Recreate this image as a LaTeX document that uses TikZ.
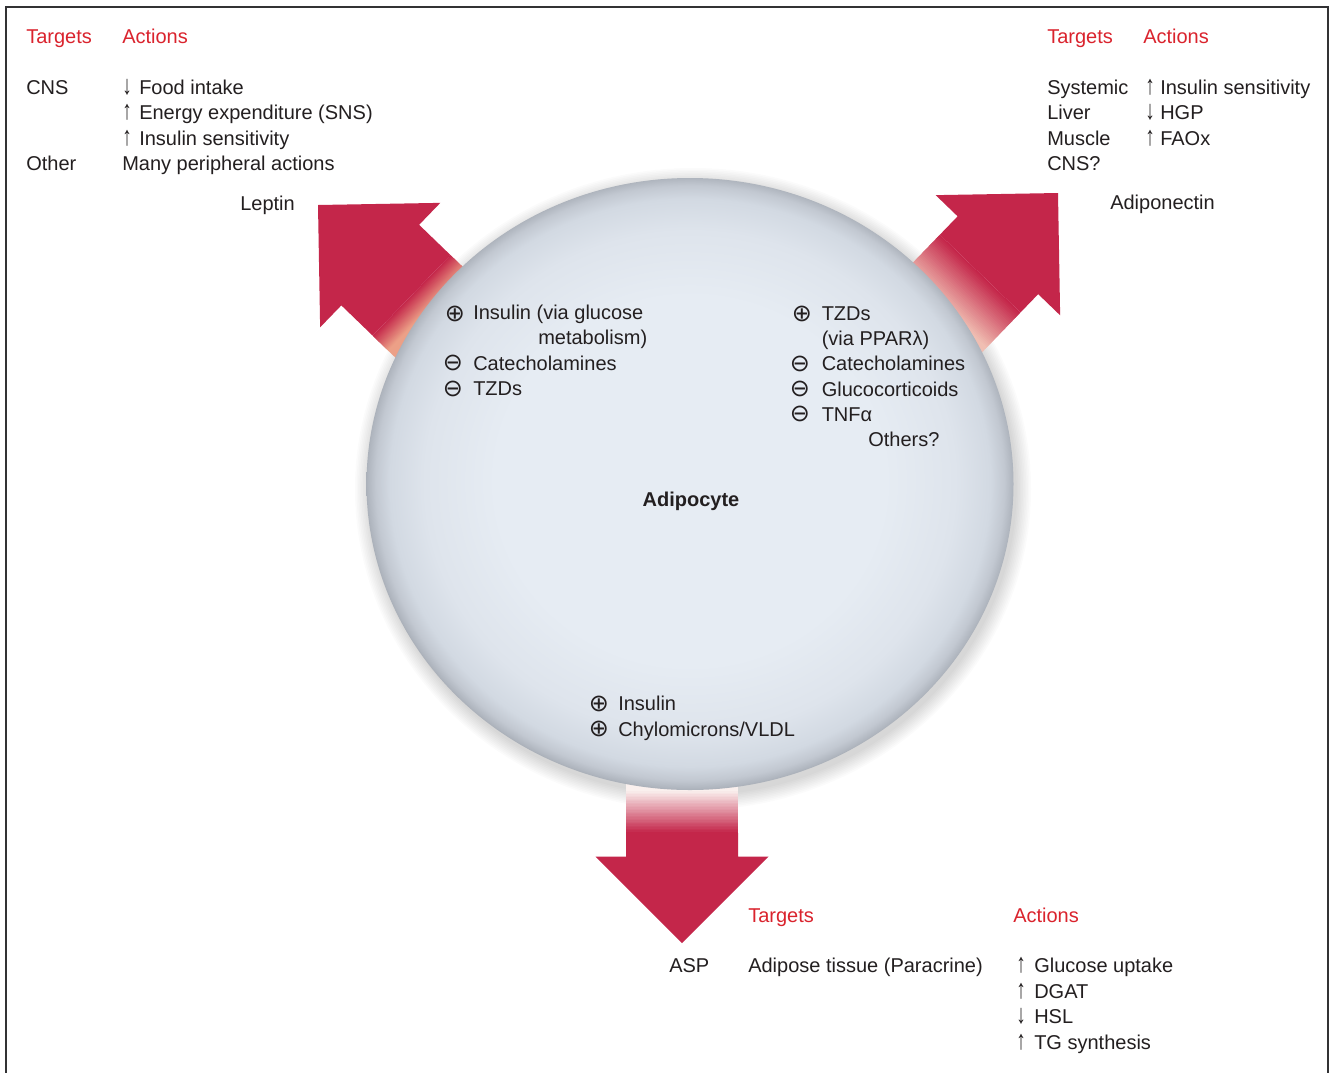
\documentclass[tikz,border=0pt]{standalone}
\usepackage{fontspec}
\setmainfont{Liberation Sans}
\newfontfamily\symfont{DejaVu Sans}
\definecolor{arrowred}{RGB}{196,38,74}
\definecolor{hdrred}{RGB}{218,35,45}
\definecolor{txt}{RGB}{35,31,32}
\definecolor{frame}{RGB}{50,50,52}
\definecolor{fadeA}{RGB}{236,160,135}
\definecolor{fadeB}{RGB}{240,190,178}
\definecolor{fadeC}{RGB}{250,240,238}
\definecolor{cellA}{RGB}{230,236,243}
\definecolor{cellB}{RGB}{222,228,236}
\definecolor{cellC}{RGB}{210,217,226}
\definecolor{cellD}{RGB}{194,200,209}
\definecolor{cellE}{RGB}{176,182,191}
\definecolor{cellF}{RGB}{160,166,175}
\pgfdeclareradialshading{cellshade}{\pgfpoint{0bp}{0.5bp}}{color(0bp)=(cellA); color(15bp)=(cellA); color(20.5bp)=(cellB); color(23.2bp)=(cellC); color(24.3bp)=(cellD); color(24.9bp)=(cellE); color(25.3bp)=(cellF); color(30bp)=(cellF)}
\newcommand\fadeband[3]{%
  \foreach \k in {0,...,29}{%
    \pgfmathsetmacro\xa{#1+(#2-(#1))*\k/30}%
    \pgfmathsetmacro\xb{#1+(#2-(#1))*(\k+1)/30-0.8}%
    \pgfmathtruncatemacro\pc{100-100*\k/29}%
    \fill[arrowred!\pc!#3] (\xa,-56) rectangle (\xb,56);}%
  \fill[#3] (#2,-56) rectangle (#2-40,56);}
\newcommand\up{\scalebox{0.95}[1.35]{↑}}
\newcommand\dn{\scalebox{0.95}[1.35]{↓}}
\begin{document}
\begin{tikzpicture}[x=0.75pt,y=-0.75pt,
  lbl/.style={anchor=base west, inner sep=0pt, text=txt, font=\fontsize{15}{18}\selectfont},
  hdr/.style={lbl, text=hdrred},
  sym/.style={inner sep=0pt, text=txt, font=\symfont\fontsize{18}{18}\selectfont},
  bigarrow/.style={fill=arrowred}]
\useasboundingbox (0,0) rectangle (1329,1072);
\fill[white] (0,0) rectangle (1329,1072);
\draw[frame, line width=1.5pt] (6,1080) -- (6,7) -- (1328,7) -- (1328,1080);

% soft shadow of the cell
\foreach \i in {1,...,10}
  \fill[black, opacity=0.016] (693,489) ellipse ({322+1.6*\i} and {305+1.6*\i});

% Leptin arrow
\begin{scope}[shift={(318,205)}, rotate=136, x=0.75pt, y=0.75pt]
  \fill[bigarrow] (0,0) -- (-86.5,86.5) -- (-86.5,56) -- (-130,56) -- (-130,-56) -- (-86.5,-56) -- (-86.5,-86.5) -- cycle;
  \fadeband{-130}{-152}{fadeA}
\end{scope}
% Adiponectin arrow
\begin{scope}[shift={(1058,193)}, rotate=46, x=0.75pt, y=0.75pt]
  \fill[bigarrow] (0,0) -- (-86.5,86.5) -- (-86.5,56) -- (-112,56) -- (-112,-56) -- (-86.5,-56) -- (-86.5,-86.5) -- cycle;
  \fadeband{-112}{-162}{fadeB}
\end{scope}
% ASP arrow
\begin{scope}[shift={(682,943)}, rotate=-90, x=0.75pt, y=0.75pt]
  \fill[bigarrow] (0,0) -- (-86.5,86.5) -- (-86.5,56) -- (-110,56) -- (-110,-56) -- (-86.5,-56) -- (-86.5,-86.5) -- cycle;
  \fadeband{-110}{-153}{fadeC}
\end{scope}

% the cell
\shade[shading=cellshade] (690,484) ellipse (323.5 and 306);
\node[lbl, anchor=base, font=\bfseries\fontsize{15}{18}\selectfont] (adipocyte) at (691,506) {Adipocyte};

% top-left block
\node[hdr] (tlT) at (26,43) {Targets};
\node[hdr] (tlA) at (122,43) {Actions};
\node[lbl] (tlcns) at (26,94) {CNS};
\node[lbl] (tlother) at (26,170.5) {Other};
\node[lbl] (tla1) at (122,94) {\dn};
\node[lbl] (tla2) at (122,119.5) {\up};
\node[lbl] (tla3) at (122,145) {\up};
\node[lbl] (tlt1) at (139,94) {Food intake};
\node[lbl] (tlt2) at (139,119.5) {Energy expenditure (SNS)};
\node[lbl] (tlt3) at (139,145) {Insulin sensitivity};
\node[lbl] (tlt4) at (122,170.5) {Many peripheral actions};
\node[lbl] (leptin) at (240,210.5) {Leptin};

% top-right block
\node[hdr] (trT) at (1047,43) {Targets};
\node[hdr] (trA) at (1143,43) {Actions};
\node[lbl] (trs1) at (1047,94) {Systemic};
\node[lbl] (trs2) at (1047,119.5) {Liver};
\node[lbl] (trs3) at (1047,145) {Muscle};
\node[lbl] (trs4) at (1047,170.5) {CNS?};
\node[lbl] (tra1) at (1145,94) {\up};
\node[lbl] (tra2) at (1145,119.5) {\dn};
\node[lbl] (tra3) at (1145,145) {\up};
\node[lbl] (trt1) at (1160,94) {Insulin sensitivity};
\node[lbl] (trt2) at (1160,119.5) {HGP};
\node[lbl] (trt3) at (1160,145) {FAOx};
\node[lbl] (adipo) at (1110,209.5) {Adiponectin};

% regulators of leptin
\node[sym] (lp1) at (455,314) {⊕};
\node[sym] (lm1) at (453,363) {⊖};
\node[sym] (lm2) at (453,388.5) {⊖};
\node[lbl] (lr1) at (473,319) {Insulin (via glucose};
\node[lbl] (lr1b) at (538,344.5) {metabolism)};
\node[lbl] (lr2) at (473,370) {Catecholamines};
\node[lbl] (lr3) at (473,395) {TZDs};

% regulators of adiponectin
\node[sym] (rp1) at (802,314) {⊕};
\node[sym] (rm1) at (800,363.5) {⊖};
\node[sym] (rm2) at (800,388.5) {⊖};
\node[sym] (rm3) at (800,413.5) {⊖};
\node[lbl] (rr1) at (821.5,320) {TZDs};
\node[lbl] (rr1b) at (821.5,345) {(via PPARλ)};
\node[lbl] (rr2) at (821.5,370.5) {Catecholamines};
\node[lbl] (rr3) at (821.5,396) {Glucocorticoids};
\node[lbl] (rr4) at (821.5,421) {TNFα};
\node[lbl] (rr5) at (868,446) {Others?};

% regulators of ASP
\node[sym] (bp1) at (599,703.5) {⊕};
\node[sym] (bp2) at (599,729) {⊕};
\node[lbl] (br1) at (618,710.5) {Insulin};
\node[lbl] (br2) at (618,736) {Chylomicrons/VLDL};

% bottom block
\node[hdr] (bT) at (748,922.5) {Targets};
\node[hdr] (bA) at (1013,922.5) {Actions};
\node[lbl] (asp) at (669,972.5) {ASP};
\node[lbl] (bt1) at (748,972.5) {Adipose tissue (Paracrine)};
\node[lbl] (ba1) at (1016,972.5) {\up};
\node[lbl] (ba2) at (1016,998) {\up};
\node[lbl] (ba3) at (1016,1023.5) {\dn};
\node[lbl] (ba4) at (1016,1049) {\up};
\node[lbl] (bx1) at (1034,972.5) {Glucose uptake};
\node[lbl] (bx2) at (1034,998) {DGAT};
\node[lbl] (bx3) at (1034,1023.5) {HSL};
\node[lbl] (bx4) at (1034,1049) {TG synthesis};
\end{tikzpicture}
\end{document}
